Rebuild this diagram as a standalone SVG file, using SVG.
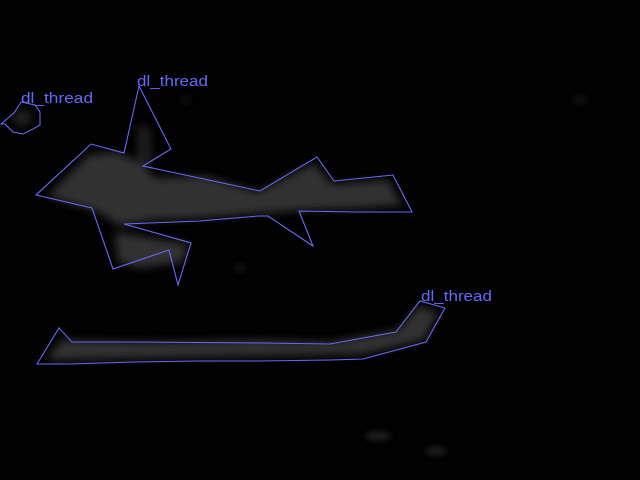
<svg xmlns="http://www.w3.org/2000/svg" width="640" height="480" viewBox="0 0 640 480">
<style>
.poly{fill:none;stroke:#6868f8;stroke-width:1.1;stroke-linejoin:miter}
.lbl{font-family:"Liberation Sans",Arial,sans-serif;font-size:14px;fill:#6868f8}
.mass{fill:#303030}
</style>
<defs>
<filter id="blur" x="-20%" y="-50%" width="140%" height="200%"><feGaussianBlur stdDeviation="4"/></filter>
<filter id="blur2" x="-50%" y="-100%" width="200%" height="300%"><feGaussianBlur stdDeviation="3"/></filter>
</defs>
<rect width="640" height="480" fill="#020202"/>
<g id="background-masses" filter="url(#blur)">
<path class="mass" d="M48,196 L88,155 L115,152 L140,162 L155,178 L205,176 L258,192 L314,163 L332,184 L388,180 L402,205 L360,208 L300,210 L250,214 L200,218 L150,220 L120,226 L98,212 Z"/>
<path class="mass" d="M115,232 L188,244 L183,262 L140,268 L118,262 Z"/>
<path class="mass" d="M138,125 L150,128 L152,165 L138,165 Z" opacity="0.6"/>
<path class="mass" d="M48,356 L62,340 L150,342 L260,340 L330,342 L398,330 L418,306 L438,312 L424,340 L364,354 L260,356 L150,358 L52,360 Z"/>
<ellipse class="mass" cx="22" cy="118" rx="10" ry="8" opacity="0.7"/>
</g>
<g id="spots" filter="url(#blur2)">
<ellipse class="mass" cx="378" cy="436" rx="13" ry="3.5" opacity="0.8"/>
<ellipse class="mass" cx="436" cy="451" rx="10" ry="3.5" opacity="0.8"/>
<ellipse class="mass" cx="240" cy="268" rx="6" ry="3" opacity="0.5"/>
<ellipse class="mass" cx="580" cy="100" rx="8" ry="5" opacity="0.3"/>
<ellipse class="mass" cx="186" cy="100" rx="5" ry="5" opacity="0.3"/>
</g>
<g id="region-small">
<polygon class="poly" points="21,102 35,105 40,112 40,125 33,129 23,134 13,132 5,124 1,124 14,113"/>
<text class="lbl" x="21" y="103" textLength="72" lengthAdjust="spacingAndGlyphs">dl_thread</text>
</g>
<g id="region-large">
<polygon class="poly" points="139,86 171,149 143,166 260,191 317,157 334,181 393,175 412,212 356,212 299,211 313,246 268,216 259,216 223,219 200,221 124,224 191,243 178,285 169,250 113,269 92,208 36,195 91,144 124,153"/>
<text class="lbl" x="137" y="86" textLength="71" lengthAdjust="spacingAndGlyphs">dl_thread</text>
</g>
<g id="region-bottom">
<polygon class="poly" points="37,364 59,328 72,342 136,342 263,343 330,344 396,332 420,301 445,308 426,342 363,359 330,360 260,361 200,361 134,362 69,364"/>
<text class="lbl" x="421" y="301" textLength="71" lengthAdjust="spacingAndGlyphs">dl_thread</text>
</g>
</svg>
